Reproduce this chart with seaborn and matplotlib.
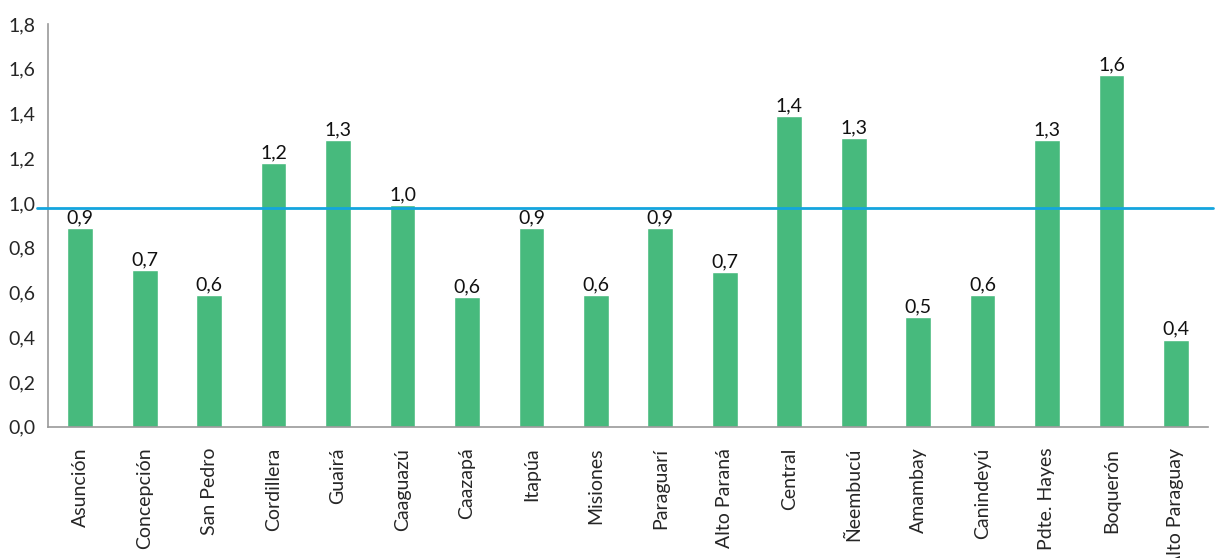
import pandas as pd
import numpy as np
import seaborn as sns
import matplotlib.pyplot as plt

# Departments and index values
departamentos = ['Asunción', 'Concepción', 'San Pedro', 'Cordillera', 'Guairá',
                 'Caaguazú', 'Caazapá', 'Itapúa', 'Misiones', 'Paraguarí',
                 'Alto Paraná', 'Central', 'Ñeembucú', 'Amambay', 'Canindeyú',
                 'Pdte. Hayes', 'Boquerón', 'Alto Paraguay']
valores = [0.89, 0.70, 0.59, 1.18, 1.28, 0.99, 0.58, 0.89, 0.59, 0.89,
           0.69, 1.39, 1.29, 0.49, 0.59, 1.28, 1.57, 0.39]
referencia = 0.98
yticks = [0.0, 0.2, 0.4, 0.6, 0.8, 1.0, 1.2, 1.4, 1.6, 1.8]

df = pd.DataFrame({'Departamento': departamentos, 'Valor': valores})

sns.set_style('white')
plt.rcParams['font.family'] = ['Lato', 'DejaVu Sans']

fig = plt.figure(figsize=(12.16, 5.58), dpi=100)
ax = fig.add_axes([0.0395, 0.235, 0.954, 0.722])

sns.barplot(data=df, x='Departamento', y='Valor', color='#47BA7D',
            width=0.4, saturation=1, ax=ax)

# reference line, drawn a little past both ends of the axis like the original
ax.axhline(referencia, color='#14A5DE', linewidth=2, xmin=-0.0095, xmax=1.004,
           clip_on=False, zorder=3)

for i, v in enumerate(valores):
    ax.text(i, v + 0.008, f'{v:.1f}'.replace('.', ','), ha='center', va='bottom',
            fontsize=14, color='#111111')

ax.set_xlim(-0.5, len(departamentos) - 0.5)
ax.set_ylim(0, 1.8)
ax.set_yticks(yticks)
ax.set_yticklabels([f'{t:.1f}'.replace('.', ',') for t in yticks], fontsize=14)
ax.set_xticks(range(len(departamentos)))
ax.set_xticklabels(departamentos, rotation=90, fontsize=14)
ax.tick_params(axis='y', length=0, pad=9)
ax.tick_params(axis='x', length=0, pad=15)
ax.set_xlabel('')
ax.set_ylabel('')

for s in ['top', 'right']:
    ax.spines[s].set_visible(False)
for s in ['left', 'bottom']:
    ax.spines[s].set_color('#999999')
    ax.spines[s].set_linewidth(1.2)

plt.savefig('out.png', dpi=100)
plt.close()
